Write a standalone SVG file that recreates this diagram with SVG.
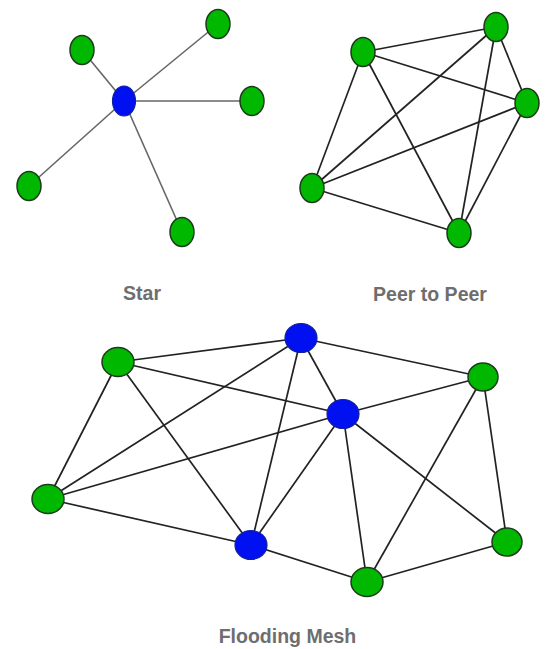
<svg xmlns="http://www.w3.org/2000/svg" width="545" height="649" viewBox="0 0 545 649">
<style>
.g{fill:#00b800;stroke:#1c3a1c;stroke-width:1.5}
.b{fill:#0010f0;stroke:#1020a0;stroke-width:1.2}
.se{stroke:#666;stroke-width:1.6;fill:none}
.e{stroke:#222;stroke-width:1.7;fill:none}
.t{font-family:"Liberation Sans",Arial,sans-serif;font-weight:bold;font-size:19.5px;fill:#6e6e6e;text-anchor:middle}
</style>
<rect width="545" height="649" fill="#fff"/>
<g id="connectors">
<g class="se">
<line x1="124" y1="101" x2="218" y2="24"/>
<line x1="124" y1="101" x2="82" y2="50"/>
<line x1="124" y1="101" x2="252" y2="101"/>
<line x1="124" y1="101" x2="29" y2="186"/>
<line x1="124" y1="101" x2="182" y2="232"/>
</g>
<g class="e">
<line x1="363" y1="52" x2="496" y2="27"/>
<line x1="363" y1="52" x2="527" y2="103"/>
<line x1="363" y1="52" x2="312" y2="188"/>
<line x1="363" y1="52" x2="459" y2="233"/>
<line x1="496" y1="27" x2="527" y2="103"/>
<line x1="496" y1="27" x2="312" y2="188"/>
<line x1="496" y1="27" x2="459" y2="233"/>
<line x1="527" y1="103" x2="312" y2="188"/>
<line x1="527" y1="103" x2="459" y2="233"/>
<line x1="312" y1="188" x2="459" y2="233"/>
</g>
<g class="e">
<line x1="118" y1="362" x2="301" y2="338"/>
<line x1="118" y1="362" x2="343" y2="414"/>
<line x1="118" y1="362" x2="48" y2="499"/>
<line x1="118" y1="362" x2="251" y2="545"/>
<line x1="48" y1="499" x2="301" y2="338"/>
<line x1="48" y1="499" x2="343" y2="414"/>
<line x1="48" y1="499" x2="251" y2="545"/>
<line x1="301" y1="338" x2="343" y2="414"/>
<line x1="301" y1="338" x2="483" y2="377"/>
<line x1="301" y1="338" x2="251" y2="545"/>
<line x1="343" y1="414" x2="483" y2="377"/>
<line x1="343" y1="414" x2="251" y2="545"/>
<line x1="343" y1="414" x2="367" y2="582"/>
<line x1="343" y1="414" x2="507" y2="542"/>
<line x1="483" y1="377" x2="367" y2="582"/>
<line x1="483" y1="377" x2="507" y2="542"/>
<line x1="507" y1="542" x2="367" y2="582"/>
<line x1="251" y1="545" x2="367" y2="582"/>
</g>
</g>
<g id="star-hub"><ellipse class="b" cx="124" cy="101" rx="11.5" ry="15"/></g>
<g id="star-n1"><ellipse class="g" cx="218" cy="24" rx="12" ry="14.5"/></g>
<g id="star-n2"><ellipse class="g" cx="82" cy="50" rx="12" ry="14.5"/></g>
<g id="star-n3"><ellipse class="g" cx="252" cy="101" rx="12" ry="14.5"/></g>
<g id="star-n4"><ellipse class="g" cx="29" cy="186" rx="12" ry="14.5"/></g>
<g id="star-n5"><ellipse class="g" cx="182" cy="232" rx="12" ry="14.5"/></g>
<g id="p2p-n1"><ellipse class="g" cx="363" cy="52" rx="12" ry="14.5"/></g>
<g id="p2p-n2"><ellipse class="g" cx="496" cy="27" rx="12" ry="14.5"/></g>
<g id="p2p-n3"><ellipse class="g" cx="527" cy="103" rx="12" ry="14.5"/></g>
<g id="p2p-n4"><ellipse class="g" cx="312" cy="188" rx="12" ry="14.5"/></g>
<g id="p2p-n5"><ellipse class="g" cx="459" cy="233" rx="12" ry="14.5"/></g>
<g id="mesh-a"><ellipse class="g" cx="118" cy="362" rx="16" ry="14.5"/></g>
<g id="mesh-b"><ellipse class="b" cx="301" cy="338" rx="16" ry="14.5"/></g>
<g id="mesh-c"><ellipse class="g" cx="483" cy="377" rx="15" ry="14"/></g>
<g id="mesh-d"><ellipse class="b" cx="343" cy="414" rx="16" ry="14.5"/></g>
<g id="mesh-e"><ellipse class="g" cx="48" cy="499" rx="16" ry="14.5"/></g>
<g id="mesh-f"><ellipse class="b" cx="251" cy="545" rx="16" ry="14.5"/></g>
<g id="mesh-g"><ellipse class="g" cx="507" cy="542" rx="15" ry="14"/></g>
<g id="mesh-h"><ellipse class="g" cx="367" cy="582" rx="16" ry="14.5"/></g>
<g id="labels">
<text class="t" x="142" y="300">Star</text>
<text class="t" x="430" y="301">Peer to Peer</text>
<text class="t" x="287.5" y="643">Flooding Mesh</text>
</g>
</svg>
